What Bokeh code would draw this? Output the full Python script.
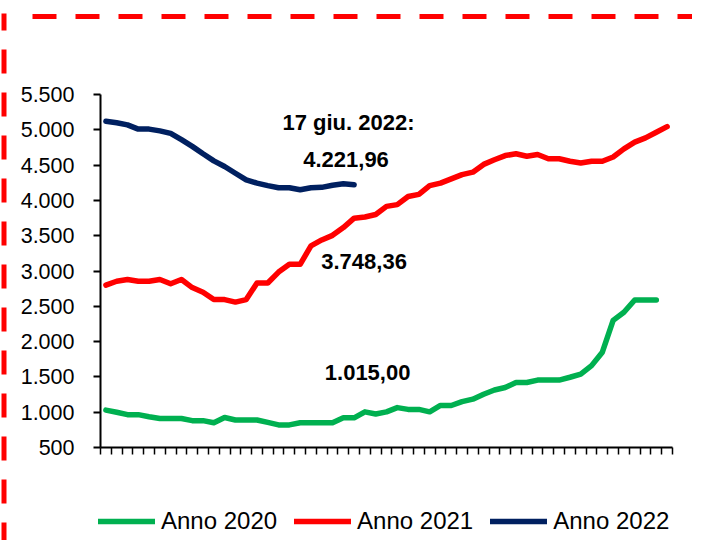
from bokeh.plotting import figure
from bokeh.models import Range1d, FixedTicker, Legend, LegendItem, Label, Arrow
from bokeh.embed import file_html
from bokeh.resources import INLINE

# ---- data -------------------------------------------------------------
weeks = list(range(1, 54))  # weeks of the year

anno_2020 = [1030, 1000, 965, 965, 935, 910, 910, 910, 880, 880, 850, 925, 890,
             890, 890, 855, 820, 820, 850, 850, 850, 850, 920, 920, 1005, 975,
             1005, 1065, 1040, 1040, 1005, 1095, 1095, 1150, 1185, 1255, 1315,
             1350, 1420, 1420, 1455, 1455, 1455, 1495, 1540, 1660, 1850, 2300,
             2415, 2590, 2590, 2590]

anno_2021 = [2800, 2855, 2880, 2855, 2855, 2880, 2820, 2880, 2765, 2700, 2595,
             2595, 2560, 2595, 2830, 2830, 2985, 3095, 3095, 3355, 3440, 3505,
             3615, 3748, 3765, 3800, 3915, 3940, 4055, 4085, 4210, 4245, 4305,
             4365, 4400, 4510, 4575, 4635, 4660, 4625, 4650, 4590, 4590, 4555,
             4530, 4555, 4555, 4615, 4730, 4825, 4885, 4965, 5045]

anno_2022 = [5120, 5100, 5070, 5010, 5010, 4985, 4950, 4860, 4765, 4660, 4560,
             4480, 4385, 4290, 4245, 4210, 4180, 4180, 4150, 4180, 4185, 4215,
             4235, 4222]

series_names = ["Anno 2020", "Anno 2021", "Anno 2022"]
series_colors = ["#00B050", "#FF0000", "#002060"]

y_ticks = [500, 1000, 1500, 2000, 2500, 3000, 3500, 4000, 4500, 5000, 5500]
y_tick_labels = ["500", "1.000", "1.500", "2.000", "2.500", "3.000",
                 "3.500", "4.000", "4.500", "5.000", "5.500"]

note_date = "17 giu. 2022:"
note_2022 = "4.221,96"
note_2021 = "3.748,36"
note_2020 = "1.015,00"

# ---- layout constants -------------------------------------------------
W, H = 692, 540
FL, FR, FT, FB = 100, 672, 94, 447          # plot-area edges (px)
X0, X1 = 0.5, 53.5                          # week axis extent
Y0, Y1 = 500, 5500                          # value axis extent
px_x = (FR - FL) / (X1 - X0)
px_y = (FB - FT) / (Y1 - Y0)


def xd(px):   # pixel column -> data x
    return X0 + (px - FL) / px_x


def yd(px):   # pixel row (from top) -> data y
    return Y0 + (FB - px) / px_y


# the frame covers the whole canvas; axes are pinned at the plot-area edges
p = figure(width=W, height=H, title=None,
           x_range=Range1d(xd(0), xd(W)), y_range=Range1d(yd(H), yd(0)),
           output_backend="svg", toolbar_location=None,
           min_border=0, min_border_left=0, min_border_right=0,
           min_border_top=0, min_border_bottom=0)
p.background_fill_color = "white"
p.border_fill_color = "white"
p.outline_line_color = None
p.xgrid.visible = False
p.ygrid.visible = False

renderers = []
for vals, name, col in zip([anno_2020, anno_2021, anno_2022], series_names, series_colors):
    r = p.line(weeks[:len(vals)], vals, line_color=col, line_width=5.5,
               line_join="round", line_cap="round")
    renderers.append(r)

# y axis
yax = p.yaxis[0]
yax.fixed_location = X0
yax.bounds = (Y0, Y1)
yax.ticker = FixedTicker(ticks=y_ticks)
yax.major_label_overrides = {t: l for t, l in zip(y_ticks, y_tick_labels)}
yax.minor_tick_line_color = None
yax.axis_line_width = 2
yax.axis_line_color = "black"
yax.major_tick_line_width = 2
yax.major_tick_line_color = "black"
yax.major_tick_out = 7
yax.major_tick_in = 0
yax.major_label_standoff = 19
yax.major_label_text_font = "Liberation Sans"
yax.major_label_text_font_size = "21.5px"
yax.major_label_text_color = "black"

# x axis (week boundaries, no labels)
xax = p.xaxis[0]
xax.fixed_location = Y0
xax.bounds = (X0, X1)
xax.ticker = FixedTicker(ticks=[w - 0.5 for w in weeks] + [weeks[-1] + 0.5])
xax.minor_tick_line_color = None
xax.axis_line_width = 2
xax.axis_line_color = "black"
xax.major_tick_line_width = 1.5
xax.major_tick_line_color = "black"
xax.major_tick_out = 7
xax.major_tick_in = 0
xax.major_label_text_color = None
xax.major_label_text_font_size = "1px"

# annotations
for txt, xx, yy in [(note_date, 23.48, yd(122)), (note_2022, 23.25, yd(159)),
                    (note_2021, 24.92, yd(261)), (note_2020, 25.25, yd(372))]:
    p.add_layout(Label(x=xx, y=yy, text=txt, text_align="center",
                       text_baseline="alphabetic", text_font="Liberation Sans",
                       text_font_style="bold", text_font_size="22px",
                       text_color="black"))

# legend
legend = Legend(items=[LegendItem(label=n, renderers=[r]) for n, r in zip(series_names, renderers)],
                orientation="horizontal", location=(98, H - 536),
                glyph_width=57, glyph_height=30, label_height=30,
                label_standoff=6, spacing=17, padding=0, margin=0,
                border_line_color=None, background_fill_alpha=0,
                label_text_font="Liberation Sans",
                label_text_font_size="24px", label_text_color="black")
p.add_layout(legend)

# red dashed frame (top and left)
p.add_layout(Arrow(end=None, x_start=xd(32), y_start=yd(16), x_end=xd(W + 20), y_end=yd(16),
                   line_color="#FF0000", line_width=5, line_dash="24 19"))
p.add_layout(Arrow(end=None, x_start=xd(3.5), y_start=yd(13), x_end=xd(3.5), y_end=yd(H + 20),
                   line_color="#FF0000", line_width=5, line_dash="24 19",
                   line_dash_offset=7))

open("out.html", "w").write(file_html(p, INLINE))
